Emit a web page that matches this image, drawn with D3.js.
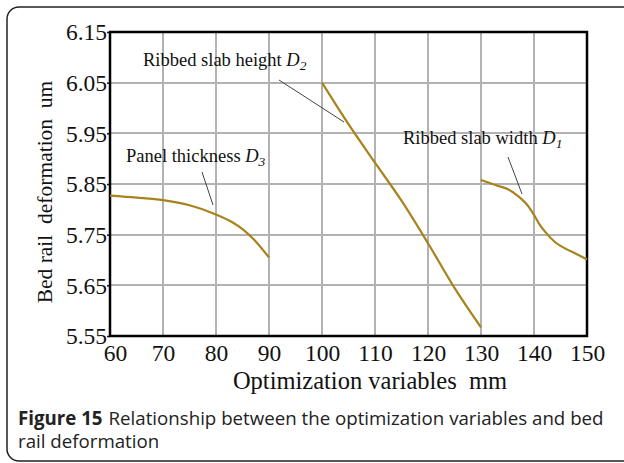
<!DOCTYPE html>
<html>
<head>
<meta charset="utf-8">
<script src="https://cdn.jsdelivr.net/npm/d3@7"></script>
<style>
  html, body { margin: 0; padding: 0; background: #fff; }
  svg { display: block; }
</style>
</head>
<body>
<div id="chart"></div>
<script>
(function () {

    // --- data ---
    const xTicks = [60, 70, 80, 90, 100, 110, 120, 130, 140, 150];
    const yTicks = [5.55, 5.65, 5.75, 5.85, 5.95, 6.05, 6.15];

    // Panel thickness D3
    const panelX = [60, 65, 70, 75, 80, 83, 85, 87, 90];
    const panelY = [5.827, 5.823, 5.818, 5.808, 5.790, 5.775, 5.761, 5.742, 5.705];

    // Ribbed slab height D2
    const heightX = [100, 105, 110, 115, 120, 125, 130];
    const heightY = [6.050, 5.968, 5.892, 5.817, 5.733, 5.645, 5.567];

    // Ribbed slab width D1
    const widthX = [130, 133, 135, 137, 139, 140, 141, 142, 144, 146, 148, 150];
    const widthY = [5.858, 5.847, 5.840, 5.826, 5.805, 5.789, 5.771, 5.757, 5.735, 5.722, 5.712, 5.701];

    const seriesNames = ["Panel thickness", "Ribbed slab height", "Ribbed slab width"];
    const seriesSubs = ["3", "2", "1"];

    // --- layout ---
    const W = 624, H = 463;
    const plot = { left: 110, top: 32, right: 587, bottom: 336 };
    const serif = "'Liberation Serif', 'Times New Roman', serif";
    const sans = "'Open Sans', 'Noto Sans', sans-serif";
    const gridColor = "#b2b2b2";

    const svg = d3.select("#chart").append("svg")
        .attr("width", W).attr("height", H);

    // figure frame (rounded box, runs off the right edge)
    svg.append("rect")
        .attr("x", 7).attr("y", 7)
        .attr("width", 660).attr("height", 454)
        .attr("rx", 12)
        .attr("fill", "none")
        .attr("stroke", "#222")
        .attr("stroke-width", 1.5);

    const x = d3.scaleLinear().domain([60, 150]).range([plot.left, plot.right]);
    const y = d3.scaleLinear().domain([5.55, 6.15]).range([plot.bottom, plot.top]);

    // gridlines, drawn as thin rects from the scales
    const grid = svg.append("g").attr("class", "grid");
    grid.selectAll("rect.gv")
        .data(xTicks.slice(1, -1))
        .join("rect")
        .attr("class", "gv")
        .attr("x", d => Math.round(x(d)) - 1).attr("width", 2)
        .attr("y", plot.top).attr("height", plot.bottom - plot.top)
        .attr("fill", gridColor);
    grid.selectAll("rect.gh")
        .data(yTicks.slice(1, -1))
        .join("rect")
        .attr("class", "gh")
        .attr("y", d => Math.round(y(d)) - 1).attr("height", 2)
        .attr("x", plot.left).attr("width", plot.right - plot.left)
        .attr("fill", gridColor);

    // axes
    const xAxis = svg.append("g")
        .attr("transform", `translate(0,${plot.bottom})`)
        .call(d3.axisBottom(x).tickValues(xTicks).tickSize(0).tickPadding(9).tickFormat(d3.format("d")));
    const yAxis = svg.append("g")
        .attr("transform", `translate(${plot.left},0)`)
        .call(d3.axisLeft(y).tickValues(yTicks).tickSize(3).tickPadding(0).tickFormat(d3.format(".2f")));

    [xAxis, yAxis].forEach(g => {
        g.select(".domain").remove();
        g.selectAll("text")
            .attr("font-family", serif)
            .attr("font-size", 23.5)
            .attr("fill", "#111");
        g.selectAll("line").attr("stroke", "#111").attr("stroke-width", 1.5);
    });
    xAxis.selectAll("text").attr("dy", "0.68em")
        .attr("dx", d => d === 60 ? 5 : 0);
    yAxis.selectAll("text").attr("dy", "0.33em");

    // plot frame
    svg.append("rect")
        .attr("x", plot.left).attr("y", plot.top)
        .attr("width", plot.right - plot.left)
        .attr("height", plot.bottom - plot.top)
        .attr("fill", "none")
        .attr("stroke", "#000")
        .attr("stroke-width", 2.5);

    // series lines
    const line = d3.line()
        .x(d => x(d[0]))
        .y(d => y(d[1]))
        .curve(d3.curveMonotoneX);

    const series = [
        d3.zip(panelX, panelY),
        d3.zip(heightX, heightY),
        d3.zip(widthX, widthY)
    ];

    svg.append("g")
        .selectAll("path")
        .data(series)
        .join("path")
        .attr("d", line)
        .attr("fill", "none")
        .attr("stroke", "#a8831c")
        .attr("stroke-width", 2.2)
        .attr("stroke-linejoin", "round");

    // annotations: label position + leader line
    const notes = [
        { tx: 126, ty: 162, from: [202, 172], to: [213, 205] },
        { tx: 143, ty: 66, from: [279, 80], to: [344, 122] },
        { tx: 403, ty: 144, from: [508, 157], to: [522, 194] }
    ];

    notes.forEach((n, i) => {
        svg.append("line")
            .attr("x1", n.from[0]).attr("y1", n.from[1])
            .attr("x2", n.to[0]).attr("y2", n.to[1])
            .attr("stroke", "#444").attr("stroke-width", 1);

        const t = svg.append("text")
            .attr("x", n.tx).attr("y", n.ty)
            .attr("font-family", serif)
            .attr("font-size", 18.5)
            .attr("fill", "#111");
        t.append("tspan").text(seriesNames[i] + " ");
        t.append("tspan").attr("font-style", "italic").text("D");
        t.append("tspan")
            .attr("font-style", "italic")
            .attr("font-size", 13.5)
            .attr("dy", 4)
            .text(seriesSubs[i]);
    });

    // axis titles
    svg.append("text")
        .attr("x", 370)
        .attr("y", 389)
        .attr("text-anchor", "middle")
        .attr("font-family", serif)
        .attr("font-size", 24.5)
        .attr("fill", "#111")
        .attr("xml:space", "preserve")
        .text("Optimization variables  mm");

    svg.append("text")
        .attr("transform", "translate(52,192) rotate(-90)")
        .attr("text-anchor", "middle")
        .attr("font-family", serif)
        .attr("font-size", 21.5)
        .attr("fill", "#111")
        .attr("xml:space", "preserve")
        .text("Bed rail  deformation  um");

    // caption
    const cap = svg.append("text")
        .attr("x", 18).attr("y", 425)
        .attr("font-family", sans)
        .attr("font-size", 18.7)
        .attr("fill", "#222");
    cap.append("tspan").attr("font-weight", "bold").text("Figure 15");
    cap.append("tspan").attr("dx", 6).text("Relationship between the optimization variables and bed");

    svg.append("text")
        .attr("x", 18).attr("y", 448)
        .attr("font-family", sans)
        .attr("font-size", 18.7)
        .attr("fill", "#222")
        .text("rail deformation");
})();
</script>
</body>
</html>
